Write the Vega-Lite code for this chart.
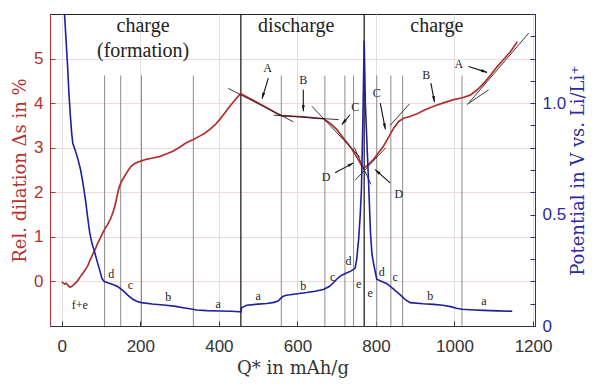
{
"$schema":"https://vega.github.io/schema/vega-lite/v6.json",
"width":485,"height":312,"autosize":"none",
"padding":{"left":50,"top":14,"right":65,"bottom":63},
"background":"white",
"config":{"view":{"stroke":"#222","strokeWidth":1},
 "axis":{"labelFont":"Liberation Sans","labelFontSize":17,"titleFont":"DejaVu Serif","titleFontSize":18,"titleFontWeight":"normal","tickSize":-5}},
"datasets":{
 "phases":[{"q":109,"top":4.62},{"q":150,"top":4.62},{"q":203,"top":4.62},{"q":335,"top":4.62},{"q":559,"top":4.62},{"q":670,"top":4.62},{"q":721,"top":4.62},{"q":743,"top":4.62},{"q":802,"top":4.62},{"q":838,"top":4.62},{"q":868,"top":4.62},{"q":1019,"top":4.62}],
 "bounds":[{"q":456},{"q":770}],
 "red":[{"q":0,"v":-0.01},{"q":7,"v":-0.06},{"q":12,"v":-0.04},{"q":17,"v":-0.1},{"q":21,"v":-0.13},{"q":27,"v":-0.1},{"q":33,"v":-0.05},{"q":37,"v":-0.02},{"q":43,"v":0.05},{"q":49,"v":0.13},{"q":57,"v":0.22},{"q":66,"v":0.35},{"q":72,"v":0.48},{"q":79,"v":0.61},{"q":86,"v":0.74},{"q":92,"v":0.87},{"q":99,"v":0.99},{"q":105,"v":1.1},{"q":111,"v":1.2},{"q":117,"v":1.28},{"q":124,"v":1.4},{"q":130,"v":1.54},{"q":135,"v":1.68},{"q":139,"v":1.84},{"q":143,"v":2.0},{"q":147,"v":2.14},{"q":153,"v":2.26},{"q":160,"v":2.36},{"q":168,"v":2.48},{"q":177,"v":2.59},{"q":185,"v":2.64},{"q":194,"v":2.68},{"q":205,"v":2.71},{"q":215,"v":2.74},{"q":232,"v":2.77},{"q":249,"v":2.8},{"q":266,"v":2.86},{"q":283,"v":2.92},{"q":300,"v":3.01},{"q":317,"v":3.11},{"q":334,"v":3.18},{"q":351,"v":3.26},{"q":365,"v":3.33},{"q":377,"v":3.41},{"q":390,"v":3.51},{"q":402,"v":3.63},{"q":415,"v":3.78},{"q":428,"v":3.93},{"q":441,"v":4.07},{"q":453,"v":4.19},{"q":456,"v":4.21},{"q":480,"v":4.1},{"q":505,"v":3.98},{"q":530,"v":3.86},{"q":548,"v":3.77},{"q":560,"v":3.72},{"q":580,"v":3.71},{"q":600,"v":3.7},{"q":615,"v":3.69},{"q":640,"v":3.67},{"q":666,"v":3.65},{"q":683,"v":3.55},{"q":700,"v":3.41},{"q":717,"v":3.22},{"q":734,"v":3.03},{"q":745,"v":2.88},{"q":755,"v":2.74},{"q":762,"v":2.62},{"q":768,"v":2.53},{"q":775,"v":2.58},{"q":785,"v":2.66},{"q":794,"v":2.74},{"q":806,"v":2.88},{"q":819,"v":3.03},{"q":828,"v":3.17},{"q":836,"v":3.3},{"q":846,"v":3.45},{"q":858,"v":3.59},{"q":870,"v":3.66},{"q":887,"v":3.7},{"q":905,"v":3.76},{"q":925,"v":3.85},{"q":947,"v":3.93},{"q":970,"v":4.0},{"q":998,"v":4.08},{"q":1020,"v":4.12},{"q":1040,"v":4.18},{"q":1058,"v":4.3},{"q":1075,"v":4.45},{"q":1092,"v":4.63},{"q":1109,"v":4.82},{"q":1126,"v":4.99},{"q":1143,"v":5.16},{"q":1160,"v":5.38}],
 "fits":[{"seg":"Ad","q":424,"v":4.33},{"seg":"Ad","q":590,"v":3.58},{"seg":"Bd","q":540,"v":3.73},{"seg":"Bd","q":705,"v":3.63},{"seg":"Cd","q":637,"v":3.93},{"seg":"Cd","q":760,"v":2.78},{"seg":"Dd","q":745,"v":3.0},{"seg":"Dd","q":787,"v":2.18},{"seg":"Dc","q":747,"v":2.27},{"seg":"Dc","q":825,"v":3.0},{"seg":"Cc","q":836,"v":3.5},{"seg":"Cc","q":885,"v":3.98},{"seg":"Bc","q":1032,"v":3.97},{"seg":"Bc","q":1087,"v":4.3},{"seg":"Ac","q":1036,"v":4.0},{"seg":"Ac","q":1189,"v":5.57}],
 "arrows":[{"x1":526,"y1":4.56,"x2":510,"y2":4.1,"angle":196},{"x1":615,"y1":4.3,"x2":615,"y2":3.82,"angle":180},{"x1":734,"y1":3.74,"x2":713,"y2":3.52,"angle":220},{"x1":696,"y1":2.44,"x2":743,"y2":2.66,"angle":61},{"x1":811,"y1":4.0,"x2":824,"y2":3.41,"angle":169},{"x1":836,"y1":2.21,"x2":798,"y2":2.51,"angle":312},{"x1":940,"y1":4.45,"x2":949,"y2":4.02,"angle":170},{"x1":1036,"y1":4.82,"x2":1083,"y2":4.69,"angle":108}],
 "arrowLabels":[{"q":524,"v":4.79,"t":"A"},{"q":615,"v":4.51,"t":"B"},{"q":747,"v":3.91,"t":"C"},{"q":673,"v":2.35,"t":"D"},{"q":802,"v":4.23,"t":"C"},{"q":858,"v":1.97,"t":"D"},{"q":928,"v":4.64,"t":"B"},{"q":1011,"v":4.88,"t":"A"}],
 "phaseLabels":[{"q":46,"v":-0.53,"t":"f+e"},{"q":126,"v":0.16,"t":"d"},{"q":175,"v":-0.08,"t":"c"},{"q":271,"v":-0.36,"t":"b"},{"q":398,"v":-0.51,"t":"a"},{"q":500,"v":-0.32,"t":"a"},{"q":615,"v":-0.1,"t":"b"},{"q":690,"v":0.1,"t":"c"},{"q":730,"v":0.45,"t":"d"},{"q":756,"v":-0.06,"t":"e"},{"q":785,"v":-0.26,"t":"e"},{"q":815,"v":0.22,"t":"d"},{"q":849,"v":0.09,"t":"c"},{"q":938,"v":-0.32,"t":"b"},{"q":1075,"v":-0.43,"t":"a"}],
 "regions":[{"q":207,"v":5.72,"t":"charge"},{"q":207,"v":5.16,"t":"(formation)"},{"q":597,"v":5.73,"t":"discharge"},{"q":955,"v":5.72,"t":"charge"}],
 "blue":[{"q":5,"p":1.48},{"q":7,"p":1.4},{"q":11,"p":1.28},{"q":15,"p":1.16},{"q":18,"p":1.05},{"q":22,"p":0.94},{"q":25,"p":0.87},{"q":28,"p":0.82},{"q":34,"p":0.79},{"q":41,"p":0.75},{"q":48,"p":0.7},{"q":54,"p":0.64},{"q":60,"p":0.57},{"q":65,"p":0.5},{"q":71,"p":0.42},{"q":77,"p":0.37},{"q":83,"p":0.336},{"q":90,"p":0.29},{"q":96,"p":0.254},{"q":102,"p":0.215},{"q":107,"p":0.201},{"q":115,"p":0.195},{"q":122,"p":0.191},{"q":132,"p":0.185},{"q":143,"p":0.176},{"q":152,"p":0.164},{"q":160,"p":0.152},{"q":170,"p":0.135},{"q":181,"p":0.12},{"q":192,"p":0.11},{"q":203,"p":0.105},{"q":230,"p":0.099},{"q":266,"p":0.093},{"q":290,"p":0.088},{"q":309,"p":0.082},{"q":330,"p":0.076},{"q":343,"p":0.072},{"q":370,"p":0.069},{"q":402,"p":0.067},{"q":430,"p":0.066},{"q":453,"p":0.064},{"q":456,"p":0.063},{"q":458,"p":0.082},{"q":465,"p":0.088},{"q":471,"p":0.093},{"q":500,"p":0.098},{"q":522,"p":0.101},{"q":540,"p":0.106},{"q":551,"p":0.112},{"q":558,"p":0.125},{"q":564,"p":0.134},{"q":572,"p":0.138},{"q":581,"p":0.14},{"q":600,"p":0.145},{"q":624,"p":0.15},{"q":645,"p":0.156},{"q":666,"p":0.164},{"q":680,"p":0.176},{"q":692,"p":0.194},{"q":700,"p":0.21},{"q":709,"p":0.224},{"q":718,"p":0.232},{"q":726,"p":0.239},{"q":735,"p":0.245},{"q":743,"p":0.254},{"q":747,"p":0.26},{"q":751,"p":0.3},{"q":756,"p":0.39},{"q":760,"p":0.5},{"q":763,"p":0.61},{"q":767,"p":0.95},{"q":770,"p":1.28},{"q":773,"p":1.0},{"q":778,"p":0.78},{"q":782,"p":0.61},{"q":786,"p":0.42},{"q":790,"p":0.32},{"q":794,"p":0.28},{"q":802,"p":0.21},{"q":815,"p":0.2},{"q":828,"p":0.19},{"q":845,"p":0.165},{"q":862,"p":0.14},{"q":875,"p":0.118},{"q":887,"p":0.105},{"q":920,"p":0.1},{"q":947,"p":0.097},{"q":970,"p":0.093},{"q":990,"p":0.087},{"q":1005,"p":0.08},{"q":1019,"p":0.075},{"q":1050,"p":0.072},{"q":1075,"p":0.07},{"q":1110,"p":0.068},{"q":1147,"p":0.066}]
},
"layer":[
 {"layer":[
  {"data":{"name":"phases"},"mark":{"type":"rule","color":"#8c8c8c","strokeWidth":1},
   "encoding":{
    "x":{"field":"q","type":"quantitative","scale":{"domain":[-30,1205],"nice":false,"zero":false},
     "axis":{"values":[0,200,400,600,800,1000,1200],"format":"d","grid":true,"gridColor":"#dedede","domainColor":"#333","tickColor":"#333","labelColor":"#333","labelPadding":17,"title":"Q* in mAh/g","titleColor":"#333","titlePadding":5}},
    "y":{"field":"top","type":"quantitative","scale":{"domain":[-1,6],"nice":false,"zero":false},
     "axis":{"values":[0,1,2,3,4,5],"grid":true,"gridColor":"#f2d8d8","domainColor":"#b53232","tickColor":"#b53232","labelColor":"#b53232","labelPadding":12,"title":"Rel. dilation Δs in %","titleColor":"#b53232","titlePadding":4}},
    "y2":{"datum":-1}}},
  {"data":{"name":"bounds"},"mark":{"type":"rule","color":"#111","strokeWidth":1.2},
   "encoding":{"x":{"field":"q","type":"quantitative"},
    "y":{"datum":6,"type":"quantitative"},"y2":{"datum":-1}}},
  {"data":{"name":"red"},"mark":{"type":"line","color":"#b32d2d","strokeWidth":1.7},
   "encoding":{"x":{"field":"q","type":"quantitative"},"y":{"field":"v","type":"quantitative"}}},
  {"data":{"name":"fits"},"mark":{"type":"line","color":"#222","strokeWidth":0.9},
   "encoding":{"x":{"field":"q","type":"quantitative"},"y":{"field":"v","type":"quantitative"},"detail":{"field":"seg"}}},
  {"data":{"name":"arrows"},"mark":{"type":"rule","color":"#111","strokeWidth":1.1},
   "encoding":{"x":{"field":"x1","type":"quantitative"},"y":{"field":"y1","type":"quantitative"},"x2":{"field":"x2"},"y2":{"field":"y2"}}},
  {"data":{"name":"arrows"},"mark":{"type":"point","shape":"M0,0L0.55,2.2L-0.55,2.2Z","filled":true,"color":"#111","size":30,"opacity":1},
   "encoding":{"x":{"field":"x2","type":"quantitative"},"y":{"field":"y2","type":"quantitative"},"angle":{"field":"angle","type":"quantitative","scale":null}}},
  {"data":{"name":"arrowLabels"},"mark":{"type":"text","font":"Liberation Serif","fontSize":12,"color":"#222"},
   "encoding":{"x":{"field":"q","type":"quantitative"},"y":{"field":"v","type":"quantitative"},"text":{"field":"t"}}},
  {"data":{"name":"phaseLabels"},"mark":{"type":"text","font":"Liberation Serif","fontSize":12,"color":"#222"},
   "encoding":{"x":{"field":"q","type":"quantitative"},"y":{"field":"v","type":"quantitative"},"text":{"field":"t"}}},
  {"data":{"name":"regions"},"mark":{"type":"text","font":"Liberation Serif","fontSize":20,"color":"#222"},
   "encoding":{"x":{"field":"q","type":"quantitative"},"y":{"field":"v","type":"quantitative"},"text":{"field":"t"}}}
 ]},
 {"data":{"name":"blue"},"mark":{"type":"line","color":"#1f1f9e","strokeWidth":1.6,"clip":true},
  "encoding":{"x":{"field":"q","type":"quantitative"},
   "y":{"field":"p","type":"quantitative","scale":{"domain":[0,1.4],"nice":false,"zero":false},
    "axis":{"orient":"right","values":[0,0.1,0.2,0.3,0.4,0.5,0.6,0.7,0.8,0.9,1,1.1,1.2,1.3,1.4],"labelExpr":"datum.value == 0 ? '0' : datum.value == 0.5 ? '0.5' : datum.value == 1 ? '1.0' : ''","grid":false,"domainColor":"#2a2aa0","tickColor":"#2a2aa0","labelColor":"#2a2aa0","labelPadding":12,"title":"Potential in V vs. Li/Li⁺","titleColor":"#2a2aa0","titleAngle":-90,"titleBaseline":"top","titlePadding":4}}}}
],
"resolve":{"scale":{"y":"independent"}}
}
